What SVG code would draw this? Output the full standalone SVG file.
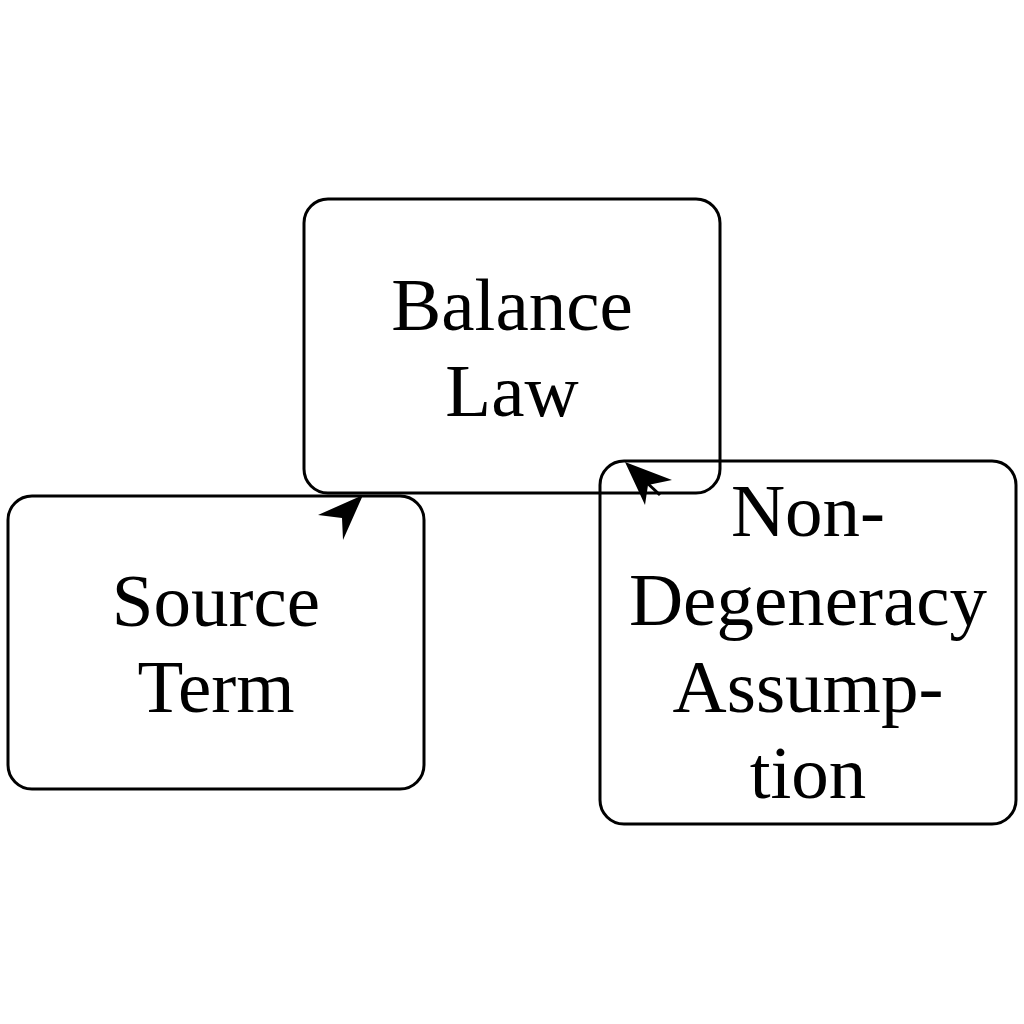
<svg xmlns="http://www.w3.org/2000/svg" width="1024" height="1024" viewBox="0 0 1024 1024">
<style>
.box{fill:none;stroke:#000;stroke-width:3}
.t{font-family:"Liberation Serif","Times New Roman",serif;font-size:75px;text-anchor:middle;fill:#000}
.head{fill:#000;stroke:none}
.edge{stroke:#000;stroke-width:3;fill:none}
</style>
<rect width="1024" height="1024" fill="#fff"/>
<g id="balance">
<rect class="box" x="304" y="199" width="416" height="294" rx="24"/>
<text class="t" x="512" y="330">Balance</text>
<text class="t" x="512" y="416">Law</text>
</g>
<g id="source">
<rect class="box" x="8" y="496" width="416" height="293" rx="24"/>
<text class="t" x="216" y="626">Source</text>
<text class="t" x="216" y="712">Term</text>
</g>
<g id="nondeg">
<rect class="box" x="600" y="461" width="416" height="363" rx="24"/>
<text class="t" x="808" y="536">Non-</text>
<text class="t" x="808" y="625">Degeneracy</text>
<text class="t" x="808" y="712">Assump-</text>
<text class="t" x="808" y="798">tion</text>
</g>
<g id="connectors">
<path class="edge" d="M350 512 L360 498"/>
<path class="head" d="M363 495 L318 515 L342 518 L343 540 Z"/>
<path class="edge" d="M660 495 L630 467"/>
<path class="head" d="M625 462 L672 480 L648 485 L645 505 Z"/>
</g>
</svg>
